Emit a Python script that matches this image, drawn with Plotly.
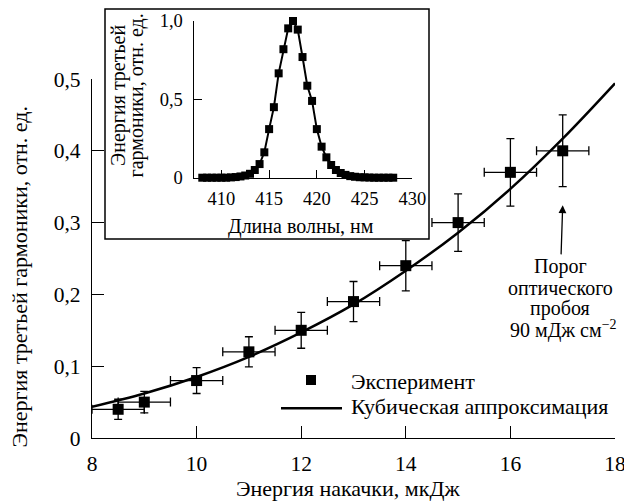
import plotly.graph_objects as go

# ---- main data: third-harmonic energy vs pump energy ----
pump_energy = [8.5, 9, 10, 11, 12, 13, 14, 15, 16, 17]
th_energy = [0.04, 0.05, 0.08, 0.12, 0.15, 0.19, 0.24, 0.30, 0.37, 0.40]
th_err = [0.014, 0.015, 0.018, 0.021, 0.025, 0.028, 0.035, 0.04, 0.047, 0.05]
pump_err = [0.5] * 10

# cubic approximation curve
fit_x = [8, 9, 10, 11, 12, 13, 14, 15, 16, 17, 18]
fit_y = [0.0435, 0.062, 0.085, 0.113, 0.147, 0.186, 0.233, 0.286, 0.347, 0.417, 0.494]

main_xticks = [8, 10, 12, 14, 16, 18]
main_yticks = [0, 0.1, 0.2, 0.3, 0.4, 0.5]
main_yticktext = ["0", "0,1", "0,2", "0,3", "0,4", "0,5"]

# ---- inset: spectrum ----
wl = [408 + 0.5 * i for i in range(41)]
spec = [0, 0, 0, 0, 0, 0, 0.002, 0.004, 0.008, 0.014,
        0.025, 0.049, 0.087, 0.162, 0.31, 0.45, 0.666, 0.82, 0.953, 1.0,
        0.945, 0.77, 0.587, 0.49, 0.31, 0.198, 0.13, 0.081, 0.049, 0.03,
        0.018, 0.01, 0.006, 0.003, 0.002, 0.001, 0, 0, 0, 0, 0]
inset_xticks = [410, 415, 420, 425, 430]
inset_yticks = [0, 0.5, 1.0]
inset_yticktext = ["0", "0,5", "1,0"]

FONT = "Liberation Serif"
W, H = 624, 502
L, R, T, B = 92, 9, 9, 64
PW, PH = W - L - R, H - T - B


def px(x):
    return (x - L) / PW


def py(y):
    return (H - B - y) / PH


def fnt(size):
    return dict(family=FONT, size=size, color="black")


fig = go.Figure()

fig.add_trace(go.Scatter(
    x=fit_x, y=fit_y, mode="lines", line=dict(color="black", width=2.5, shape="spline"),
    xaxis="x", yaxis="y", showlegend=False, hoverinfo="skip"))

fig.add_trace(go.Scatter(
    x=pump_energy, y=th_energy, mode="markers",
    marker=dict(symbol="square", size=11, color="black"),
    error_y=dict(type="data", array=th_err, color="black", thickness=1.3, width=4),
    error_x=dict(type="data", array=pump_err, color="black", thickness=1.3, width=4.5),
    xaxis="x", yaxis="y", showlegend=False))

fig.add_trace(go.Scatter(
    x=wl, y=spec, mode="lines+markers",
    line=dict(color="black", width=2),
    marker=dict(symbol="square", size=8, color="black"),
    xaxis="x2", yaxis="y2", showlegend=False, cliponaxis=False))

axis_common = dict(showgrid=False, zeroline=False, showline=True, linecolor="black",
                   linewidth=1.3, ticks="inside", tickcolor="black", tickwidth=1.3,
                   color="black", automargin=False, ticklabeloverflow="allow")

fig.update_layout(
    width=W, height=H, autosize=False,
    margin=dict(l=L, r=R, t=T, b=B),
    paper_bgcolor="white", plot_bgcolor="rgba(0,0,0,0)",
    font=fnt(21),
    separators=", ",
    xaxis=dict(domain=[0, 1], range=[8, 18], tickvals=main_xticks, ticklen=12,
               anchor="y", tickfont=fnt(21.5), ticklabelstandoff=6, **axis_common),
    yaxis=dict(domain=[0, (H - B - 79) / PH], range=[0, 0.5], tickvals=main_yticks,
               ticktext=main_yticktext, ticklen=12, anchor="x",
               tickfont=fnt(21.5), ticklabelstandoff=6, **axis_common),
    xaxis2=dict(domain=[px(193.7), px(412.3)], range=[407.1, 430], tickvals=inset_xticks,
                ticklen=8, anchor="y2", tickfont=fnt(18.5), ticklabelstandoff=4,
                **axis_common),
    yaxis2=dict(domain=[py(177.7), py(21)], range=[0, 1.0], tickvals=inset_yticks,
                ticktext=inset_yticktext, ticklen=8, anchor="x2",
                tickfont=fnt(18.5), ticklabelstandoff=6, **axis_common),
)

shapes = [
    # inset frame
    dict(type="rect", xref="paper", yref="paper", x0=px(105), x1=px(429),
         y0=py(239), y1=py(9), line=dict(color="black", width=1.5),
         fillcolor="rgba(0,0,0,0)", layer="below"),
    # legend symbols
    dict(type="rect", xref="paper", yref="paper", x0=px(306), x1=px(316),
         y0=py(385), y1=py(375), line=dict(width=0), fillcolor="black"),
    dict(type="line", xref="paper", yref="paper", x0=px(281), x1=px(342),
         y0=py(408.3), y1=py(408.3), line=dict(color="black", width=2.5)),
]
fig.update_layout(shapes=shapes)

ann = [
    dict(text="Энергия третьей гармоники, отн. ед.", x=px(19), y=py(277.5),
         textangle=-90, font=fnt(22)),
    dict(text="Энергия накачки, мкДж", x=px(347.5), y=py(488), font=fnt(22)),
    dict(text="Энергия третьей", x=px(118), y=py(96), textangle=-90, font=fnt(20)),
    dict(text="гармоники, отн. ед.", x=px(135.5), y=py(96), textangle=-90, font=fnt(20)),
    dict(text="Длина волны, нм", x=px(301), y=py(226.7), font=fnt(20)),
    dict(text="Эксперимент", x=px(349), y=py(381.7), xanchor="left", font=fnt(22)),
    dict(text="Кубическая аппроксимация", x=px(349), y=py(406.7), xanchor="left",
         font=fnt(22)),
    dict(text="оптического", x=px(560), y=py(287.5), font=fnt(20)),
    dict(text="пробоя", x=px(560), y=py(308.5), font=fnt(20)),
    dict(text="90 мДж см<sup>−2</sup>", x=px(563), y=py(329.5), font=fnt(20)),
]
anns = []
for a in ann:
    d = dict(xref="paper", yref="paper", showarrow=False, xanchor="center",
             yanchor="middle")
    d.update(a)
    anns.append(d)

# "Порог" with the arrow pointing at the 17 mJ point
anns.append(dict(xref="x", yref="y", x=17, y=0.324, ax=-2, ay=61, axref="pixel",
                 ayref="pixel", showarrow=True, arrowhead=2, arrowsize=1.2,
                 arrowwidth=1.3, arrowcolor="black", text="Порог", font=fnt(20),
                 borderpad=0, standoff=0))
fig.update_layout(annotations=anns)

fig.write_html("out.html")
